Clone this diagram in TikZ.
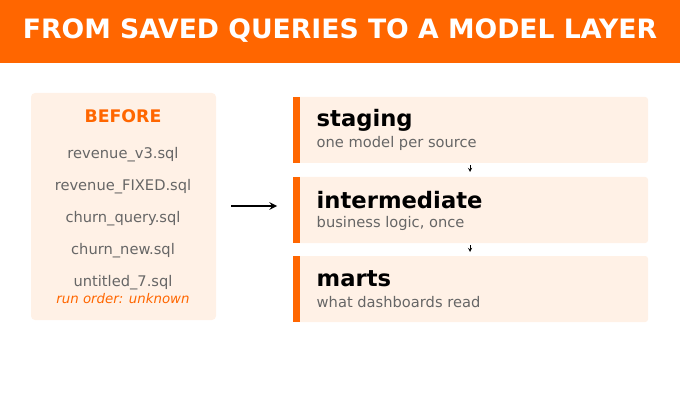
\documentclass[tikz,border=0pt]{standalone}
\usepackage{fontspec}
\setmainfont{DejaVu Sans}
\usetikzlibrary{positioning}
\definecolor{brand}{HTML}{FF6600}
\definecolor{pale}{HTML}{FFF1E6}
\definecolor{greytext}{HTML}{666666}
\tikzset{
  filename/.style={text=greytext, font=\fontsize{11}{13}\selectfont},
  layername/.style={anchor=west, font=\bfseries\fontsize{17}{20}\selectfont},
  layerdesc/.style={anchor=west, text=greytext, font=\fontsize{11}{13}\selectfont},
}
\begin{document}
\begin{tikzpicture}[x=0.75pt,y=-0.75pt]
    \useasboundingbox (0,0) rectangle (680,409);

    % Header
    \fill[brand] (0,0) rectangle (680,63);
    \node (title) at (340,31) {\color{white}\bfseries\fontsize{20}{24}\selectfont FROM SAVED QUERIES TO A MODEL LAYER};

    % Before panel
    \fill[pale, rounded corners=3pt] (31,93) rectangle (216,320);
    \node[text=brand, font=\bfseries\fontsize{13}{16}\selectfont] (before) at (123,116) {BEFORE};
    \node[filename] (f1) at (123,155) {revenue\_v3.sql};
    \node[filename] (f2) at (123,187) {revenue\_FIXED.sql};
    \node[filename] (f3) at (123,219) {churn\_query.sql};
    \node[filename] (f4) at (123,251) {churn\_new.sql};
    \node[filename] (f5) at (123,283) {untitled\_7.sql};
    \node[text=brand, font=\itshape\fontsize{10}{12}\selectfont] (order) at (123,299) {run order: unknown};

    % Arrow
    \coordinate (from) at (231,206);
    \coordinate (to) at (277,206);
    \draw[line width=1.5pt, -stealth] (from) -- (to);

    % Layers
    \foreach \y/\name/\desc/\id in {97/staging/one model per source/stg, 177/intermediate/{business logic, once}/int, 256/marts/what dashboards read/mrt} {
        \fill[pale, rounded corners=2pt] (293,\y) rectangle (648,\y+66);
        \fill[brand] (293,\y) rectangle (300,\y+66);
        \node[layername] (\id) at (312,\y+23) {\name};
        \node[layerdesc] (\id desc) at (312,\y+46) {\desc};
    }
    \coordinate (a1) at (470,165); \coordinate (a2) at (470,172);
    \coordinate (b1) at (470,245); \coordinate (b2) at (470,252);
    \draw[-stealth, thin] (a1) -- (a2);
    \draw[-stealth, thin] (b1) -- (b2);

\end{tikzpicture}
\end{document}
